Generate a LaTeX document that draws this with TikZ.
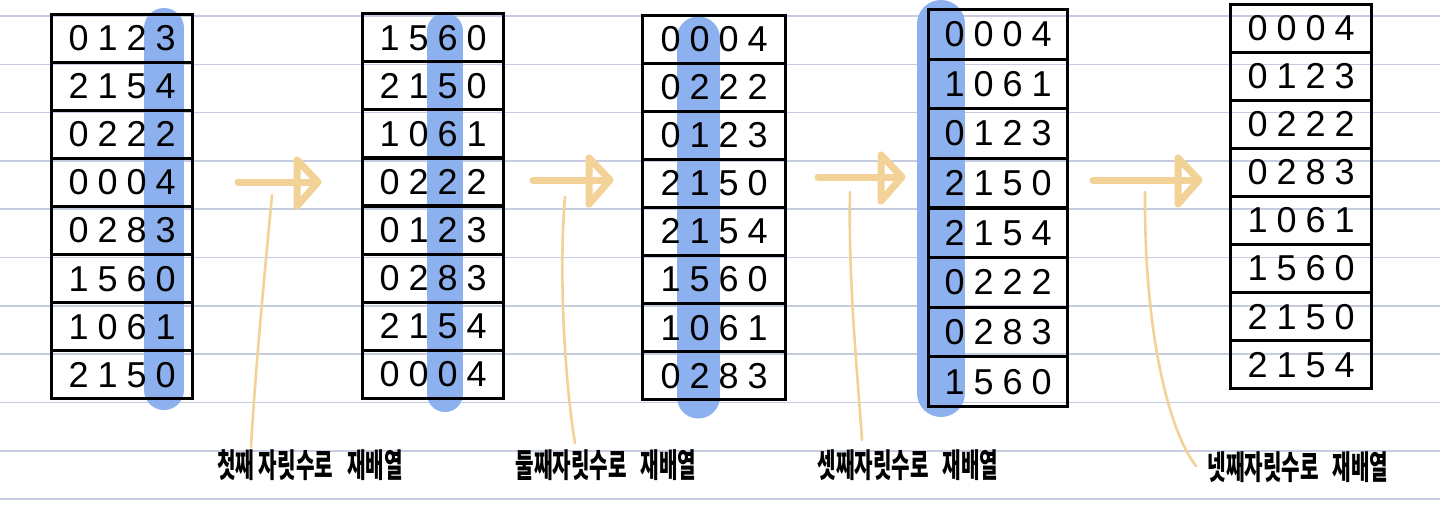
\documentclass[tikz,border=0pt]{standalone}
\usepackage{fontspec}
\setmainfont{Liberation Sans}
\newfontfamily\kr{Noto Sans CJK KR}
\definecolor{rule}{HTML}{C5CCE0}
\definecolor{hlblue}{HTML}{8DB0EE}
\definecolor{tan}{HTML}{F2D296}
\def\digx#1#2#3#4\relax{#1\hspace{9pt}#2\hspace{9pt}#3\hspace{9pt}#4}
\newcommand\drawtbl[6]{%
  \foreach \v [count=\i] in {#6} {
    \node[rowbox, minimum width=#4pt, minimum height=#5pt, anchor=north west]
      (#1r\i) at (#2, {#3+(\i-1)*#5}) {\expandafter\digx\v\relax};
  }%
}
\begin{document}
\begin{tikzpicture}[x=1pt,y=-1pt,
  rowbox/.style={draw=black, line width=3.2pt, inner sep=0pt, font=\fontsize{36}{38}\selectfont},
  hl/.style={line width=#1pt, hlblue, line cap=round},
  arr/.style={tan, line width=7pt, line cap=round, line join=round},
  conn/.style={tan, line width=2.6pt, line cap=round},
  lbl/.style={font=\kr\bfseries\fontsize{33}{36}\selectfont, xscale=0.61, inner sep=0pt}]
\useasboundingbox (0,0) rectangle (1440,515);
\fill[white] (0,0) rectangle (1440,515);
% ruled lines
\foreach \yy in {16,64.3,112.6,160.9,209.2,257.5,305.8,354.1,402.4,450.7,499} {
  \draw[rule, line width=1.6pt] (0,\yy) -- (1440,\yy);
}
% highlights
\draw[hl=40] (164,28) -- (164,390);
\draw[hl=36] (445,31) -- (445,394);
\draw[hl=43] (698,38) -- (698,397);
\draw[hl=48] (941,24) -- (941,393);
% tables
\drawtbl{ta}{50}{13}{141}{48}{0123,2154,0222,0004,0283,1560,1061,2150}
\drawtbl{tb}{361}{12}{141}{48.1}{1560,2150,1061,0222,0123,0283,2154,0004}
\drawtbl{tc}{641}{14}{143}{48}{0004,0222,0123,2150,2154,1560,1061,0283}
\drawtbl{td}{927}{8}{139}{49.6}{0004,1061,0123,2150,2154,0222,0283,1560}
\drawtbl{te}{1229}{3}{141}{48}{0004,0123,0222,0283,1061,1560,2150,2154}
% arrows
\foreach \n/\xs/\xe/\yy in {1/238/314/182, 2/533/606/180, 3/818/898/177, 4/1093/1195/180} {
  \coordinate (s\n) at (\xs,\yy);
  \coordinate (e\n) at (\xe,\yy);
  \coordinate (t\n) at (\xe+4,\yy);
  \coordinate (u\n) at (\xe-17,\yy-22);
  \coordinate (d\n) at (\xe-17,\yy+24);
  \draw[arr] (s\n) -- (e\n);
  \draw[arr] (u\n) -- (t\n) -- (d\n) -- cycle;
}
% labels
\node[lbl] (l1) at (310,465) {첫째 자릿수로\hspace{0.7em}재배열};
\node[lbl] (l2) at (606,465) {둘째자릿수로\hspace{0.7em}재배열};
\node[lbl] (l3) at (908,465) {셋째자릿수로\hspace{0.7em}재배열};
\node[lbl] (l4) at (1298,467) {넷째자릿수로\hspace{0.7em}재배열};
% connectors
\coordinate (p1) at (272,195); \coordinate (q1) at (251,447);
\coordinate (p2) at (565,197); \coordinate (q2) at (575,443);
\coordinate (p3) at (850,192); \coordinate (q3) at (862,440);
\coordinate (p4) at (1145,192); \coordinate (q4) at (1196,466);
\draw[conn] (q1) .. controls (256,360) and (266,260) .. (p1);
\draw[conn] (q2) .. controls (566,390) and (558,280) .. (p2);
\draw[conn] (q3) .. controls (858,380) and (848,280) .. (p3);
\draw[conn] (q4) .. controls (1168,430) and (1144,330) .. (p4);
\end{tikzpicture}
\end{document}
